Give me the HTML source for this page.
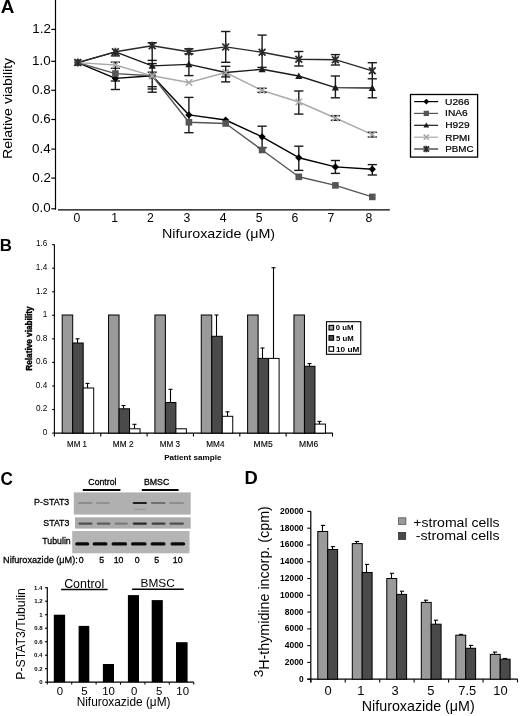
<!DOCTYPE html>
<html><head><meta charset="utf-8"><style>
html,body{margin:0;padding:0;background:#fff;}
body{width:520px;height:716px;overflow:hidden;}
svg{display:block;font-family:"Liberation Sans", sans-serif;filter:grayscale(1);}
</style></head><body>
<svg width="520" height="716" viewBox="0 0 520 716">
<rect width="520" height="716" fill="#fff"/>
<text x="0.84" y="13.48" font-size="18.09" font-weight="bold" fill="#000" textLength="13.57" lengthAdjust="spacingAndGlyphs" >A</text>
<line x1="55.5" y1="0" x2="55.5" y2="209.8" stroke="#000" stroke-width="1.2" />
<line x1="51.3" y1="29.4" x2="55.5" y2="29.4" stroke="#000" stroke-width="1.2" />
<text x="32.24" y="32.9" font-size="13.4" font-weight="normal" fill="#000" textLength="18.63" lengthAdjust="spacingAndGlyphs" >1.2</text>
<line x1="51.3" y1="61.3" x2="55.5" y2="61.3" stroke="#000" stroke-width="1.2" />
<text x="32.11" y="64.8" font-size="13.4" font-weight="normal" fill="#000" textLength="18.63" lengthAdjust="spacingAndGlyphs" >1.0</text>
<line x1="51.3" y1="90.3" x2="55.5" y2="90.3" stroke="#000" stroke-width="1.2" />
<text x="32.11" y="93.8" font-size="13.4" font-weight="normal" fill="#000" textLength="18.63" lengthAdjust="spacingAndGlyphs" >0.8</text>
<line x1="51.3" y1="119.5" x2="55.5" y2="119.5" stroke="#000" stroke-width="1.2" />
<text x="32.11" y="123" font-size="13.4" font-weight="normal" fill="#000" textLength="18.63" lengthAdjust="spacingAndGlyphs" >0.6</text>
<line x1="51.3" y1="149.1" x2="55.5" y2="149.1" stroke="#000" stroke-width="1.2" />
<text x="31.98" y="152.6" font-size="13.4" font-weight="normal" fill="#000" textLength="18.63" lengthAdjust="spacingAndGlyphs" >0.4</text>
<line x1="51.3" y1="178.1" x2="55.5" y2="178.1" stroke="#000" stroke-width="1.2" />
<text x="32.24" y="181.6" font-size="13.4" font-weight="normal" fill="#000" textLength="18.63" lengthAdjust="spacingAndGlyphs" >0.2</text>
<line x1="51.3" y1="208.8" x2="55.5" y2="208.8" stroke="#000" stroke-width="1.2" />
<text x="32.11" y="212.3" font-size="13.4" font-weight="normal" fill="#000" textLength="18.63" lengthAdjust="spacingAndGlyphs" >0.0</text>
<line x1="58" y1="209.9" x2="389.8" y2="209.9" stroke="#000" stroke-width="1.2" />
<text x="73.43" y="221.7" font-size="12.2" font-weight="normal" fill="#000" textLength="6.79" lengthAdjust="spacingAndGlyphs" >0</text>
<text x="111.3" y="221.7" font-size="12.2" font-weight="normal" fill="#000" textLength="6.79" lengthAdjust="spacingAndGlyphs" >1</text>
<text x="147.08" y="221.7" font-size="12.2" font-weight="normal" fill="#000" textLength="6.79" lengthAdjust="spacingAndGlyphs" >2</text>
<text x="183.45" y="221.7" font-size="12.2" font-weight="normal" fill="#000" textLength="6.79" lengthAdjust="spacingAndGlyphs" >3</text>
<text x="219.84" y="221.7" font-size="12.2" font-weight="normal" fill="#000" textLength="6.79" lengthAdjust="spacingAndGlyphs" >4</text>
<text x="255.65" y="221.7" font-size="12.2" font-weight="normal" fill="#000" textLength="6.79" lengthAdjust="spacingAndGlyphs" >5</text>
<text x="291.58" y="221.7" font-size="12.2" font-weight="normal" fill="#000" textLength="6.79" lengthAdjust="spacingAndGlyphs" >6</text>
<text x="327.58" y="221.7" font-size="12.2" font-weight="normal" fill="#000" textLength="6.79" lengthAdjust="spacingAndGlyphs" >7</text>
<text x="365.44" y="221.7" font-size="12.2" font-weight="normal" fill="#000" textLength="6.79" lengthAdjust="spacingAndGlyphs" >8</text>
<text x="162.06" y="238.47" font-size="12.98" font-weight="normal" fill="#000" textLength="113.02" lengthAdjust="spacingAndGlyphs" >Nifuroxazide (&#956;M)</text>
<text transform="translate(12.04,159.03) rotate(-90)" font-size="13.62" font-weight="normal" fill="#000" textLength="101.22" lengthAdjust="spacingAndGlyphs" >Relative viability</text>
<polyline points="77.8,62.6 115.4,78.4 152.2,75.8 188.9,114.9 225.7,120 262.1,136.8 298.8,157.7 335.4,166.9 372.3,169.2" fill="none" stroke="#000" stroke-width="1.4" stroke-linejoin="round"/>
<polyline points="77.8,62.6 115.4,73.6 152.2,75.8 188.9,122.3 225.7,123.5 262.1,150 298.8,176.8 335.4,185.4 372.3,196.9" fill="none" stroke="#555" stroke-width="1.4" stroke-linejoin="round"/>
<polyline points="77.8,62.6 115.4,51.8 152.2,65.9 188.9,64.4 225.7,72.5 262.1,69.3 298.8,76 335.4,87.6 372.3,88" fill="none" stroke="#1a1a1a" stroke-width="1.4" stroke-linejoin="round"/>
<polyline points="77.8,62.6 115.4,65 152.2,75.8 188.9,82.5 225.7,72.5 262.1,90.5 298.8,102 335.4,118 372.3,134.6" fill="none" stroke="#aaa" stroke-width="1.4" stroke-linejoin="round"/>
<polyline points="77.8,62.6 115.4,51.8 152.2,45.7 188.9,51.8 225.7,46.9 262.1,52.3 298.8,59.2 335.4,59.7 372.3,70.8" fill="none" stroke="#2a2a2a" stroke-width="1.4" stroke-linejoin="round"/>
<line x1="115.4" y1="62.2" x2="115.4" y2="89.5" stroke="#1a1a1a" stroke-width="1.4" />
<line x1="110.8" y1="62.2" x2="120" y2="62.2" stroke="#1a1a1a" stroke-width="1.4" />
<line x1="110.8" y1="68.3" x2="120" y2="68.3" stroke="#1a1a1a" stroke-width="1.4" />
<line x1="110.8" y1="81.0" x2="120" y2="81.0" stroke="#1a1a1a" stroke-width="1.4" />
<line x1="110.8" y1="89.5" x2="120" y2="89.5" stroke="#1a1a1a" stroke-width="1.4" />
<line x1="115.4" y1="51.8" x2="115.4" y2="55.9" stroke="#1a1a1a" stroke-width="1.4" />
<line x1="110.8" y1="55.9" x2="120" y2="55.9" stroke="#1a1a1a" stroke-width="1.4" />
<line x1="152.2" y1="42.7" x2="152.2" y2="92.2" stroke="#1a1a1a" stroke-width="1.4" />
<line x1="147.6" y1="42.7" x2="156.8" y2="42.7" stroke="#1a1a1a" stroke-width="1.4" />
<line x1="147.6" y1="60.4" x2="156.8" y2="60.4" stroke="#1a1a1a" stroke-width="1.4" />
<line x1="147.6" y1="63.6" x2="156.8" y2="63.6" stroke="#1a1a1a" stroke-width="1.4" />
<line x1="147.6" y1="72.2" x2="156.8" y2="72.2" stroke="#1a1a1a" stroke-width="1.4" />
<line x1="147.6" y1="86.7" x2="156.8" y2="86.7" stroke="#1a1a1a" stroke-width="1.4" />
<line x1="147.6" y1="89.0" x2="156.8" y2="89.0" stroke="#1a1a1a" stroke-width="1.4" />
<line x1="147.6" y1="92.2" x2="156.8" y2="92.2" stroke="#1a1a1a" stroke-width="1.4" />
<line x1="188.9" y1="48.8" x2="188.9" y2="75.6" stroke="#1a1a1a" stroke-width="1.4" />
<line x1="184.3" y1="48.8" x2="193.5" y2="48.8" stroke="#1a1a1a" stroke-width="1.4" />
<line x1="184.3" y1="53.8" x2="193.5" y2="53.8" stroke="#1a1a1a" stroke-width="1.4" />
<line x1="184.3" y1="75.6" x2="193.5" y2="75.6" stroke="#1a1a1a" stroke-width="1.4" />
<line x1="188.9" y1="97.4" x2="188.9" y2="132.7" stroke="#1a1a1a" stroke-width="1.4" />
<line x1="184.3" y1="97.4" x2="193.5" y2="97.4" stroke="#1a1a1a" stroke-width="1.4" />
<line x1="184.3" y1="132.7" x2="193.5" y2="132.7" stroke="#1a1a1a" stroke-width="1.4" />
<line x1="225.7" y1="31.5" x2="225.7" y2="62.3" stroke="#1a1a1a" stroke-width="1.4" />
<line x1="221.1" y1="31.5" x2="230.3" y2="31.5" stroke="#1a1a1a" stroke-width="1.4" />
<line x1="221.1" y1="62.3" x2="230.3" y2="62.3" stroke="#1a1a1a" stroke-width="1.4" />
<line x1="225.7" y1="66.3" x2="225.7" y2="81.9" stroke="#1a1a1a" stroke-width="1.4" />
<line x1="221.1" y1="66.3" x2="230.3" y2="66.3" stroke="#1a1a1a" stroke-width="1.4" />
<line x1="221.1" y1="76.9" x2="230.3" y2="76.9" stroke="#1a1a1a" stroke-width="1.4" />
<line x1="221.1" y1="81.9" x2="230.3" y2="81.9" stroke="#1a1a1a" stroke-width="1.4" />
<line x1="262.1" y1="35.1" x2="262.1" y2="67.4" stroke="#1a1a1a" stroke-width="1.4" />
<line x1="257.5" y1="35.1" x2="266.7" y2="35.1" stroke="#1a1a1a" stroke-width="1.4" />
<line x1="257.5" y1="67.4" x2="266.7" y2="67.4" stroke="#1a1a1a" stroke-width="1.4" />
<line x1="262.1" y1="88.3" x2="262.1" y2="92.3" stroke="#1a1a1a" stroke-width="1.4" />
<line x1="257.5" y1="88.3" x2="266.7" y2="88.3" stroke="#1a1a1a" stroke-width="1.4" />
<line x1="257.5" y1="92.3" x2="266.7" y2="92.3" stroke="#1a1a1a" stroke-width="1.4" />
<line x1="262.1" y1="126.2" x2="262.1" y2="147.7" stroke="#1a1a1a" stroke-width="1.4" />
<line x1="257.5" y1="126.2" x2="266.7" y2="126.2" stroke="#1a1a1a" stroke-width="1.4" />
<line x1="257.5" y1="147.7" x2="266.7" y2="147.7" stroke="#1a1a1a" stroke-width="1.4" />
<line x1="298.8" y1="51.5" x2="298.8" y2="66.0" stroke="#1a1a1a" stroke-width="1.4" />
<line x1="294.2" y1="51.5" x2="303.4" y2="51.5" stroke="#1a1a1a" stroke-width="1.4" />
<line x1="294.2" y1="66.0" x2="303.4" y2="66.0" stroke="#1a1a1a" stroke-width="1.4" />
<line x1="298.8" y1="91.0" x2="298.8" y2="114.1" stroke="#1a1a1a" stroke-width="1.4" />
<line x1="294.2" y1="91.0" x2="303.4" y2="91.0" stroke="#1a1a1a" stroke-width="1.4" />
<line x1="294.2" y1="114.1" x2="303.4" y2="114.1" stroke="#1a1a1a" stroke-width="1.4" />
<line x1="298.8" y1="146.2" x2="298.8" y2="170.4" stroke="#1a1a1a" stroke-width="1.4" />
<line x1="294.2" y1="146.2" x2="303.4" y2="146.2" stroke="#1a1a1a" stroke-width="1.4" />
<line x1="294.2" y1="170.4" x2="303.4" y2="170.4" stroke="#1a1a1a" stroke-width="1.4" />
<line x1="335.4" y1="54.6" x2="335.4" y2="65.0" stroke="#1a1a1a" stroke-width="1.4" />
<line x1="330.8" y1="54.6" x2="340" y2="54.6" stroke="#1a1a1a" stroke-width="1.4" />
<line x1="330.8" y1="65.0" x2="340" y2="65.0" stroke="#1a1a1a" stroke-width="1.4" />
<line x1="335.4" y1="76.0" x2="335.4" y2="97.8" stroke="#1a1a1a" stroke-width="1.4" />
<line x1="330.8" y1="76.0" x2="340" y2="76.0" stroke="#1a1a1a" stroke-width="1.4" />
<line x1="330.8" y1="97.8" x2="340" y2="97.8" stroke="#1a1a1a" stroke-width="1.4" />
<line x1="335.4" y1="115.7" x2="335.4" y2="120.3" stroke="#1a1a1a" stroke-width="1.4" />
<line x1="330.8" y1="115.7" x2="340" y2="115.7" stroke="#1a1a1a" stroke-width="1.4" />
<line x1="330.8" y1="120.3" x2="340" y2="120.3" stroke="#1a1a1a" stroke-width="1.4" />
<line x1="335.4" y1="160.5" x2="335.4" y2="173.4" stroke="#1a1a1a" stroke-width="1.4" />
<line x1="330.8" y1="160.5" x2="340" y2="160.5" stroke="#1a1a1a" stroke-width="1.4" />
<line x1="330.8" y1="173.4" x2="340" y2="173.4" stroke="#1a1a1a" stroke-width="1.4" />
<line x1="372.3" y1="62.7" x2="372.3" y2="78.8" stroke="#1a1a1a" stroke-width="1.4" />
<line x1="367.7" y1="62.7" x2="376.9" y2="62.7" stroke="#1a1a1a" stroke-width="1.4" />
<line x1="367.7" y1="78.8" x2="376.9" y2="78.8" stroke="#1a1a1a" stroke-width="1.4" />
<line x1="372.3" y1="78.8" x2="372.3" y2="97.8" stroke="#1a1a1a" stroke-width="1.4" />
<line x1="367.7" y1="97.8" x2="376.9" y2="97.8" stroke="#1a1a1a" stroke-width="1.4" />
<line x1="372.3" y1="132.3" x2="372.3" y2="137.0" stroke="#1a1a1a" stroke-width="1.4" />
<line x1="367.7" y1="132.3" x2="376.9" y2="132.3" stroke="#1a1a1a" stroke-width="1.4" />
<line x1="367.7" y1="137.0" x2="376.9" y2="137.0" stroke="#1a1a1a" stroke-width="1.4" />
<line x1="372.3" y1="164.6" x2="372.3" y2="175.0" stroke="#1a1a1a" stroke-width="1.4" />
<line x1="367.7" y1="164.6" x2="376.9" y2="164.6" stroke="#1a1a1a" stroke-width="1.4" />
<line x1="367.7" y1="175.0" x2="376.9" y2="175.0" stroke="#1a1a1a" stroke-width="1.4" />
<path d="M77.8 59L81.4 62.6L77.8 66.2L74.2 62.6Z" fill="#000"/>
<path d="M115.4 74.8L119 78.4L115.4 82L111.8 78.4Z" fill="#000"/>
<path d="M152.2 72.2L155.8 75.8L152.2 79.4L148.6 75.8Z" fill="#000"/>
<path d="M188.9 111.3L192.5 114.9L188.9 118.5L185.3 114.9Z" fill="#000"/>
<path d="M225.7 116.4L229.3 120L225.7 123.6L222.1 120Z" fill="#000"/>
<path d="M262.1 133.2L265.7 136.8L262.1 140.4L258.5 136.8Z" fill="#000"/>
<path d="M298.8 154.1L302.4 157.7L298.8 161.3L295.2 157.7Z" fill="#000"/>
<path d="M335.4 163.3L339 166.9L335.4 170.5L331.8 166.9Z" fill="#000"/>
<path d="M372.3 165.6L375.9 169.2L372.3 172.8L368.7 169.2Z" fill="#000"/>
<rect x="74.5" y="59.3" width="6.6" height="6.6" fill="#555"/>
<rect x="112.1" y="70.3" width="6.6" height="6.6" fill="#555"/>
<rect x="148.9" y="72.5" width="6.6" height="6.6" fill="#555"/>
<rect x="185.6" y="119" width="6.6" height="6.6" fill="#555"/>
<rect x="222.4" y="120.2" width="6.6" height="6.6" fill="#555"/>
<rect x="258.8" y="146.7" width="6.6" height="6.6" fill="#555"/>
<rect x="295.5" y="173.5" width="6.6" height="6.6" fill="#555"/>
<rect x="332.1" y="182.1" width="6.6" height="6.6" fill="#555"/>
<rect x="369" y="193.6" width="6.6" height="6.6" fill="#555"/>
<path d="M77.8 59L81.4 65.48L74.2 65.48Z" fill="#1a1a1a"/>
<path d="M115.4 48.2L119 54.68L111.8 54.68Z" fill="#1a1a1a"/>
<path d="M152.2 62.3L155.8 68.78L148.6 68.78Z" fill="#1a1a1a"/>
<path d="M188.9 60.8L192.5 67.28L185.3 67.28Z" fill="#1a1a1a"/>
<path d="M225.7 68.9L229.3 75.38L222.1 75.38Z" fill="#1a1a1a"/>
<path d="M262.1 65.7L265.7 72.18L258.5 72.18Z" fill="#1a1a1a"/>
<path d="M298.8 72.4L302.4 78.88L295.2 78.88Z" fill="#1a1a1a"/>
<path d="M335.4 84L339 90.48L331.8 90.48Z" fill="#1a1a1a"/>
<path d="M372.3 84.4L375.9 90.88L368.7 90.88Z" fill="#1a1a1a"/>
<path d="M74.6 59.4L81 65.8M81 59.4L74.6 65.8" stroke="#aaa" stroke-width="1.6" fill="none"/>
<path d="M112.2 61.8L118.6 68.2M118.6 61.8L112.2 68.2" stroke="#aaa" stroke-width="1.6" fill="none"/>
<path d="M149 72.6L155.4 79M155.4 72.6L149 79" stroke="#aaa" stroke-width="1.6" fill="none"/>
<path d="M185.7 79.3L192.1 85.7M192.1 79.3L185.7 85.7" stroke="#aaa" stroke-width="1.6" fill="none"/>
<path d="M222.5 69.3L228.9 75.7M228.9 69.3L222.5 75.7" stroke="#aaa" stroke-width="1.6" fill="none"/>
<path d="M258.9 87.3L265.3 93.7M265.3 87.3L258.9 93.7" stroke="#aaa" stroke-width="1.6" fill="none"/>
<path d="M295.6 98.8L302 105.2M302 98.8L295.6 105.2" stroke="#aaa" stroke-width="1.6" fill="none"/>
<path d="M332.2 114.8L338.6 121.2M338.6 114.8L332.2 121.2" stroke="#aaa" stroke-width="1.6" fill="none"/>
<path d="M369.1 131.4L375.5 137.8M375.5 131.4L369.1 137.8" stroke="#aaa" stroke-width="1.6" fill="none"/>
<path d="M74.4 59.2L81.2 66M81.2 59.2L74.4 66M77.8 58.6L77.8 66.6" stroke="#2a2a2a" stroke-width="1.7" fill="none"/>
<path d="M112 48.4L118.8 55.2M118.8 48.4L112 55.2M115.4 47.8L115.4 55.8" stroke="#2a2a2a" stroke-width="1.7" fill="none"/>
<path d="M148.8 42.3L155.6 49.1M155.6 42.3L148.8 49.1M152.2 41.7L152.2 49.7" stroke="#2a2a2a" stroke-width="1.7" fill="none"/>
<path d="M185.5 48.4L192.3 55.2M192.3 48.4L185.5 55.2M188.9 47.8L188.9 55.8" stroke="#2a2a2a" stroke-width="1.7" fill="none"/>
<path d="M222.3 43.5L229.1 50.3M229.1 43.5L222.3 50.3M225.7 42.9L225.7 50.9" stroke="#2a2a2a" stroke-width="1.7" fill="none"/>
<path d="M258.7 48.9L265.5 55.7M265.5 48.9L258.7 55.7M262.1 48.3L262.1 56.3" stroke="#2a2a2a" stroke-width="1.7" fill="none"/>
<path d="M295.4 55.8L302.2 62.6M302.2 55.8L295.4 62.6M298.8 55.2L298.8 63.2" stroke="#2a2a2a" stroke-width="1.7" fill="none"/>
<path d="M332 56.3L338.8 63.1M338.8 56.3L332 63.1M335.4 55.7L335.4 63.7" stroke="#2a2a2a" stroke-width="1.7" fill="none"/>
<path d="M368.9 67.4L375.7 74.2M375.7 67.4L368.9 74.2M372.3 66.8L372.3 74.8" stroke="#2a2a2a" stroke-width="1.7" fill="none"/>
<rect x="410.5" y="94.5" width="67.1" height="62.6" fill="#fff" stroke="#000" stroke-width="1.3" />
<line x1="414.1" y1="101.6" x2="438.1" y2="101.6" stroke="#000" stroke-width="1.2" />
<path d="M426.3 98.72L429.18 101.6L426.3 104.48L423.42 101.6Z" fill="#000"/>
<text x="444.98" y="104.91" font-size="9.15" font-weight="normal" fill="#000" textLength="24.54" lengthAdjust="spacingAndGlyphs" stroke="#000" stroke-width="0.2">U266</text>
<line x1="414.1" y1="113.4" x2="438.1" y2="113.4" stroke="#555" stroke-width="1.2" />
<rect x="423.66" y="110.76" width="5.28" height="5.28" fill="#555"/>
<text x="445.08" y="116.41" font-size="9.15" font-weight="normal" fill="#000" textLength="22.66" lengthAdjust="spacingAndGlyphs" stroke="#000" stroke-width="0.2">INA6</text>
<line x1="414.1" y1="125.3" x2="438.1" y2="125.3" stroke="#1a1a1a" stroke-width="1.2" />
<path d="M426.3 122.42L429.18 127.6L423.42 127.6Z" fill="#1a1a1a"/>
<text x="445.18" y="128.01" font-size="9.3" font-weight="normal" fill="#000" textLength="24.44" lengthAdjust="spacingAndGlyphs" stroke="#000" stroke-width="0.2">H929</text>
<line x1="414.1" y1="137.2" x2="438.1" y2="137.2" stroke="#aaa" stroke-width="1.2" />
<path d="M423.74 134.64L428.86 139.76M428.86 134.64L423.74 139.76" stroke="#aaa" stroke-width="1.6" fill="none"/>
<text x="445.2" y="140.5" font-size="9.13" font-weight="normal" fill="#000" textLength="24.89" lengthAdjust="spacingAndGlyphs" stroke="#000" stroke-width="0.2">RPMI</text>
<line x1="414.1" y1="149.0" x2="438.1" y2="149.0" stroke="#2a2a2a" stroke-width="1.2" />
<path d="M423.58 146.28L429.02 151.72M429.02 146.28L423.58 151.72M426.3 145.68L426.3 152.32" stroke="#2a2a2a" stroke-width="1.7" fill="none"/>
<text x="445.21" y="152.11" font-size="9.15" font-weight="normal" fill="#000" textLength="28.37" lengthAdjust="spacingAndGlyphs" stroke="#000" stroke-width="0.2">PBMC</text>
<text x="-0.18" y="251.2" font-size="17.1" font-weight="bold" fill="#000" textLength="12.19" lengthAdjust="spacingAndGlyphs" >B</text>
<line x1="54.4" y1="244.6" x2="54.4" y2="433.6" stroke="#000" stroke-width="1.1" />
<line x1="52.2" y1="433.1" x2="54.4" y2="433.1" stroke="#000" stroke-width="1.1" />
<text x="42.74" y="434.9" font-size="8.2" font-weight="normal" fill="#000" textLength="4.56" lengthAdjust="spacingAndGlyphs" >0</text>
<line x1="52.2" y1="409.54" x2="54.4" y2="409.54" stroke="#000" stroke-width="1.1" />
<text x="36.01" y="411.34" font-size="8.2" font-weight="normal" fill="#000" textLength="11.4" lengthAdjust="spacingAndGlyphs" >0.2</text>
<line x1="52.2" y1="385.98" x2="54.4" y2="385.98" stroke="#000" stroke-width="1.1" />
<text x="35.85" y="387.78" font-size="8.2" font-weight="normal" fill="#000" textLength="11.4" lengthAdjust="spacingAndGlyphs" >0.4</text>
<line x1="52.2" y1="362.42" x2="54.4" y2="362.42" stroke="#000" stroke-width="1.1" />
<text x="35.93" y="364.22" font-size="8.2" font-weight="normal" fill="#000" textLength="11.4" lengthAdjust="spacingAndGlyphs" >0.6</text>
<line x1="52.2" y1="338.86" x2="54.4" y2="338.86" stroke="#000" stroke-width="1.1" />
<text x="35.93" y="340.66" font-size="8.2" font-weight="normal" fill="#000" textLength="11.4" lengthAdjust="spacingAndGlyphs" >0.8</text>
<line x1="52.2" y1="315.3" x2="54.4" y2="315.3" stroke="#000" stroke-width="1.1" />
<text x="42.82" y="317.1" font-size="8.2" font-weight="normal" fill="#000" textLength="4.56" lengthAdjust="spacingAndGlyphs" >1</text>
<line x1="52.2" y1="291.74" x2="54.4" y2="291.74" stroke="#000" stroke-width="1.1" />
<text x="36.01" y="293.54" font-size="8.2" font-weight="normal" fill="#000" textLength="11.4" lengthAdjust="spacingAndGlyphs" >1.2</text>
<line x1="52.2" y1="268.18000000000006" x2="54.4" y2="268.18000000000006" stroke="#000" stroke-width="1.1" />
<text x="35.85" y="269.98" font-size="8.2" font-weight="normal" fill="#000" textLength="11.4" lengthAdjust="spacingAndGlyphs" >1.4</text>
<line x1="52.2" y1="244.62000000000003" x2="54.4" y2="244.62000000000003" stroke="#000" stroke-width="1.1" />
<text x="35.93" y="246.42" font-size="8.2" font-weight="normal" fill="#000" textLength="11.4" lengthAdjust="spacingAndGlyphs" >1.6</text>
<line x1="54" y1="433.1" x2="332.8" y2="433.1" stroke="#000" stroke-width="1.1" />
<line x1="54.4" y1="433.1" x2="54.4" y2="436.6" stroke="#000" stroke-width="1.1" />
<line x1="100.75" y1="433.1" x2="100.75" y2="436.6" stroke="#000" stroke-width="1.1" />
<line x1="147.1" y1="433.1" x2="147.1" y2="436.6" stroke="#000" stroke-width="1.1" />
<line x1="193.45000000000002" y1="433.1" x2="193.45000000000002" y2="436.6" stroke="#000" stroke-width="1.1" />
<line x1="239.8" y1="433.1" x2="239.8" y2="436.6" stroke="#000" stroke-width="1.1" />
<line x1="286.15" y1="433.1" x2="286.15" y2="436.6" stroke="#000" stroke-width="1.1" />
<line x1="332.5" y1="433.1" x2="332.5" y2="436.6" stroke="#000" stroke-width="1.1" />
<text transform="translate(31.76,370.67) rotate(-90)" font-size="9.26" font-weight="bold" fill="#000" textLength="64.33" lengthAdjust="spacingAndGlyphs" stroke="#000" stroke-width="0.4">Relative viability</text>
<line x1="77.5" y1="338.8" x2="77.5" y2="343" stroke="#000" stroke-width="1.1" />
<line x1="75.5" y1="338.8" x2="79.5" y2="338.8" stroke="#000" stroke-width="1.1" />
<line x1="87.5" y1="383.4" x2="87.5" y2="388" stroke="#000" stroke-width="1.1" />
<line x1="85.5" y1="383.4" x2="89.5" y2="383.4" stroke="#000" stroke-width="1.1" />
<rect x="62.2" y="315" width="10.5" height="118.10000000000002" fill="#9a9a9a" stroke="#000" stroke-width="1.0" />
<rect x="72.7" y="343" width="10.5" height="90.10000000000002" fill="#4a4a4a" stroke="#000" stroke-width="1.0" />
<rect x="83.2" y="388" width="10.5" height="45.10000000000002" fill="#fff" stroke="#000" stroke-width="1.0" />
<text x="67.07" y="447.2" font-size="8.41" font-weight="normal" fill="#000" textLength="19.83" lengthAdjust="spacingAndGlyphs" stroke="#000" stroke-width="0.12">MM 1</text>
<line x1="123.5" y1="405.5" x2="123.5" y2="408.8" stroke="#000" stroke-width="1.1" />
<line x1="121.5" y1="405.5" x2="125.5" y2="405.5" stroke="#000" stroke-width="1.1" />
<line x1="134.5" y1="424.3" x2="134.5" y2="428.8" stroke="#000" stroke-width="1.1" />
<line x1="132.5" y1="424.3" x2="136.5" y2="424.3" stroke="#000" stroke-width="1.1" />
<rect x="108.55000000000001" y="315" width="10.5" height="118.10000000000002" fill="#9a9a9a" stroke="#000" stroke-width="1.0" />
<rect x="119.05000000000001" y="408.8" width="10.5" height="24.30000000000001" fill="#4a4a4a" stroke="#000" stroke-width="1.0" />
<rect x="129.55" y="428.8" width="10.5" height="4.300000000000011" fill="#fff" stroke="#000" stroke-width="1.0" />
<text x="112.84" y="447.2" font-size="8.29" font-weight="normal" fill="#000" textLength="20.68" lengthAdjust="spacingAndGlyphs" stroke="#000" stroke-width="0.12">MM 2</text>
<line x1="170.5" y1="389.3" x2="170.5" y2="402.5" stroke="#000" stroke-width="1.1" />
<line x1="168.5" y1="389.3" x2="172.5" y2="389.3" stroke="#000" stroke-width="1.1" />
<rect x="154.9" y="315" width="10.5" height="118.10000000000002" fill="#9a9a9a" stroke="#000" stroke-width="1.0" />
<rect x="165.4" y="402.5" width="10.5" height="30.600000000000023" fill="#4a4a4a" stroke="#000" stroke-width="1.0" />
<rect x="175.9" y="428.8" width="10.5" height="4.300000000000011" fill="#fff" stroke="#000" stroke-width="1.0" />
<text x="159.65" y="447.12" font-size="8.17" font-weight="normal" fill="#000" textLength="20.38" lengthAdjust="spacingAndGlyphs" stroke="#000" stroke-width="0.12">MM 3</text>
<line x1="216.5" y1="315" x2="216.5" y2="336.3" stroke="#000" stroke-width="1.1" />
<line x1="214.5" y1="315" x2="218.5" y2="315" stroke="#000" stroke-width="1.1" />
<line x1="227.5" y1="411.8" x2="227.5" y2="416.3" stroke="#000" stroke-width="1.1" />
<line x1="225.5" y1="411.8" x2="229.5" y2="411.8" stroke="#000" stroke-width="1.1" />
<rect x="201.25" y="315" width="10.5" height="118.10000000000002" fill="#9a9a9a" stroke="#000" stroke-width="1.0" />
<rect x="211.75" y="336.3" width="10.5" height="96.80000000000001" fill="#4a4a4a" stroke="#000" stroke-width="1.0" />
<rect x="222.25" y="416.3" width="10.5" height="16.80000000000001" fill="#fff" stroke="#000" stroke-width="1.0" />
<text x="206.24" y="447.2" font-size="8.41" font-weight="normal" fill="#000" textLength="18.22" lengthAdjust="spacingAndGlyphs" stroke="#000" stroke-width="0.12">MM4</text>
<line x1="262.5" y1="348" x2="262.5" y2="358.4" stroke="#000" stroke-width="1.1" />
<line x1="260.5" y1="348" x2="264.5" y2="348" stroke="#000" stroke-width="1.1" />
<line x1="273.5" y1="267.7" x2="273.5" y2="358.4" stroke="#000" stroke-width="1.1" />
<line x1="271.5" y1="267.7" x2="275.5" y2="267.7" stroke="#000" stroke-width="1.1" />
<rect x="247.60000000000002" y="315" width="10.5" height="118.10000000000002" fill="#9a9a9a" stroke="#000" stroke-width="1.0" />
<rect x="258.1" y="358.4" width="10.5" height="74.70000000000005" fill="#4a4a4a" stroke="#000" stroke-width="1.0" />
<rect x="268.6" y="358.4" width="10.5" height="74.70000000000005" fill="#fff" stroke="#000" stroke-width="1.0" />
<text x="253.61" y="447.12" font-size="8.29" font-weight="normal" fill="#000" textLength="19.05" lengthAdjust="spacingAndGlyphs" stroke="#000" stroke-width="0.12">MM5</text>
<line x1="309.5" y1="363.6" x2="309.5" y2="366.3" stroke="#000" stroke-width="1.1" />
<line x1="307.5" y1="363.6" x2="311.5" y2="363.6" stroke="#000" stroke-width="1.1" />
<line x1="319.5" y1="421.4" x2="319.5" y2="424.1" stroke="#000" stroke-width="1.1" />
<line x1="317.5" y1="421.4" x2="321.5" y2="421.4" stroke="#000" stroke-width="1.1" />
<rect x="293.95" y="315" width="10.5" height="118.10000000000002" fill="#9a9a9a" stroke="#000" stroke-width="1.0" />
<rect x="304.45" y="366.3" width="10.5" height="66.80000000000001" fill="#4a4a4a" stroke="#000" stroke-width="1.0" />
<rect x="314.95" y="424.1" width="10.5" height="9.0" fill="#fff" stroke="#000" stroke-width="1.0" />
<text x="299.11" y="447.12" font-size="8.17" font-weight="normal" fill="#000" textLength="19.05" lengthAdjust="spacingAndGlyphs" stroke="#000" stroke-width="0.12">MM6</text>
<text x="164.18" y="459.72" font-size="7.29" font-weight="bold" fill="#000" textLength="57.38" lengthAdjust="spacingAndGlyphs" >Patient sample</text>
<rect x="326.5" y="321.7" width="34.3" height="32.6" fill="#fff" stroke="#000" stroke-width="1.1" />
<rect x="329.0" y="325.4" width="4.6" height="4.6" fill="#9a9a9a" stroke="#000" stroke-width="1.1" />
<text x="335.89" y="330.33" font-size="6.9" font-weight="bold" fill="#000" textLength="17.74" lengthAdjust="spacingAndGlyphs" >0 uM</text>
<rect x="329.0" y="335.59999999999997" width="4.6" height="4.6" fill="#4a4a4a" stroke="#000" stroke-width="1.1" />
<text x="335.97" y="340.73" font-size="7.14" font-weight="bold" fill="#000" textLength="17.66" lengthAdjust="spacingAndGlyphs" >5 uM</text>
<rect x="329.0" y="346.7" width="4.6" height="4.6" fill="#fff" stroke="#000" stroke-width="1.1" />
<text x="336.01" y="351.82" font-size="7.61" font-weight="bold" fill="#000" textLength="23.32" lengthAdjust="spacingAndGlyphs" >10 uM</text>
<text x="0.51" y="484.51" font-size="18.59" font-weight="bold" fill="#000" textLength="12.44" lengthAdjust="spacingAndGlyphs" >C</text>
<text x="88.36" y="485.11" font-size="9.46" font-weight="normal" fill="#000" textLength="28.09" lengthAdjust="spacingAndGlyphs" stroke="#000" stroke-width="0.3">Control</text>
<text x="143.9" y="485.31" font-size="9.44" font-weight="normal" fill="#000" textLength="25.35" lengthAdjust="spacingAndGlyphs" stroke="#000" stroke-width="0.3">BMSC</text>
<line x1="82.8" y1="490.0" x2="120.4" y2="490.0" stroke="#000" stroke-width="2.0" />
<line x1="141.8" y1="490.0" x2="178.6" y2="490.0" stroke="#000" stroke-width="2.0" />
<rect x="73.8" y="492.4" width="116.9" height="22.2" fill="#b0b0b0" stroke="none" stroke-width="1" />
<rect x="75.0" y="517.3" width="115.7" height="11.3" fill="#acacac" stroke="none" stroke-width="1" />
<rect x="72.2" y="531.0" width="117.3" height="22.3" fill="#b4b4b4" stroke="none" stroke-width="1" />
<text x="34.09" y="505.01" font-size="9.3" font-weight="normal" fill="#000" textLength="35.2" lengthAdjust="spacingAndGlyphs" stroke="#000" stroke-width="0.3">P-STAT3</text>
<text x="43.36" y="525.71" font-size="8.87" font-weight="normal" fill="#000" textLength="25.92" lengthAdjust="spacingAndGlyphs" stroke="#000" stroke-width="0.3">STAT3</text>
<text x="42.32" y="543.71" font-size="9.05" font-weight="normal" fill="#000" textLength="28.43" lengthAdjust="spacingAndGlyphs" stroke="#000" stroke-width="0.3">Tubulin</text>
<rect x="78" y="501.9" width="14.5" height="2.2" rx="1.1" fill="#8c8c8c" opacity="1.0"/>
<rect x="96" y="501.9" width="14" height="2.2" rx="1.1" fill="#909090" opacity="1.0"/>
<rect x="132.6" y="501.9" width="14.4" height="2.2" rx="1.1" fill="#1e1e1e" opacity="1.0"/>
<rect x="150.8" y="501.9" width="15" height="2.2" rx="1.1" fill="#707070" opacity="1.0"/>
<rect x="169" y="501.9" width="15" height="2.2" rx="1.1" fill="#8e8e8e" opacity="1.0"/>
<rect x="133.5" y="508.6" width="13" height="1.6" rx="0.8" fill="#9c9c9c" opacity="1.0"/>
<rect x="78.5" y="522.4" width="14" height="2.4" rx="1.2" fill="#505050" opacity="1.0"/>
<rect x="96.8" y="522.4" width="13.6" height="2.4" rx="1.2" fill="#5c5c5c" opacity="1.0"/>
<rect x="114.4" y="522.4" width="13.4" height="2.4" rx="1.2" fill="#7c7c7c" opacity="1.0"/>
<rect x="132.8" y="522.4" width="14.2" height="2.4" rx="1.2" fill="#2a2a2a" opacity="1.0"/>
<rect x="151.6" y="522.4" width="13.9" height="2.4" rx="1.2" fill="#404040" opacity="1.0"/>
<rect x="169.5" y="522.4" width="14.5" height="2.4" rx="1.2" fill="#505050" opacity="1.0"/>
<rect x="75.2" y="542.25" width="14" height="3.3" rx="1.65" fill="#0a0a0a" opacity="1.0"/>
<rect x="92.6" y="542.25" width="14.9" height="3.3" rx="1.65" fill="#0a0a0a" opacity="1.0"/>
<rect x="111.5" y="542.25" width="15.6" height="3.3" rx="1.65" fill="#0a0a0a" opacity="1.0"/>
<rect x="131" y="542.25" width="15.6" height="3.3" rx="1.65" fill="#0a0a0a" opacity="1.0"/>
<rect x="150.6" y="542.25" width="15" height="3.3" rx="1.65" fill="#0a0a0a" opacity="1.0"/>
<rect x="170.5" y="542.25" width="14.7" height="3.3" rx="1.65" fill="#0a0a0a" opacity="1.0"/>
<text x="3.07" y="562.94" font-size="9.79" font-weight="normal" fill="#000" textLength="74.74" lengthAdjust="spacingAndGlyphs" stroke="#000" stroke-width="0.3">Nifuroxazide (&#956;M):</text>
<text x="78.84" y="562.5" font-size="8.8" font-weight="normal" fill="#000" textLength="4.9" lengthAdjust="spacingAndGlyphs" stroke="#000" stroke-width="0.3">0</text>
<text x="99.18" y="562.5" font-size="8.8" font-weight="normal" fill="#000" textLength="4.9" lengthAdjust="spacingAndGlyphs" stroke="#000" stroke-width="0.3">5</text>
<text x="113.69" y="562.5" font-size="8.8" font-weight="normal" fill="#000" textLength="9.79" lengthAdjust="spacingAndGlyphs" stroke="#000" stroke-width="0.3">10</text>
<text x="134.64" y="562.5" font-size="8.8" font-weight="normal" fill="#000" textLength="4.9" lengthAdjust="spacingAndGlyphs" stroke="#000" stroke-width="0.3">0</text>
<text x="154.18" y="562.5" font-size="8.8" font-weight="normal" fill="#000" textLength="4.9" lengthAdjust="spacingAndGlyphs" stroke="#000" stroke-width="0.3">5</text>
<text x="172.84" y="562.5" font-size="8.8" font-weight="normal" fill="#000" textLength="9.79" lengthAdjust="spacingAndGlyphs" stroke="#000" stroke-width="0.3">10</text>
<text x="64.13" y="587.87" font-size="12.57" font-weight="normal" fill="#000" textLength="40.17" lengthAdjust="spacingAndGlyphs" >Control</text>
<text x="140.55" y="587.19" font-size="11.41" font-weight="normal" fill="#000" textLength="34.32" lengthAdjust="spacingAndGlyphs" >BMSC</text>
<line x1="61.1" y1="589.5" x2="107.6" y2="589.5" stroke="#000" stroke-width="1.4" />
<line x1="132.1" y1="589.3" x2="183.7" y2="589.3" stroke="#000" stroke-width="1.4" />
<line x1="47.3" y1="587.3" x2="47.3" y2="682.8" stroke="#000" stroke-width="1.2" />
<line x1="45.0" y1="682.2" x2="47.3" y2="682.2" stroke="#000" stroke-width="1.1" />
<text x="39.34" y="684.1" font-size="6" font-weight="bold" fill="#000" textLength="3.34" lengthAdjust="spacingAndGlyphs" >0</text>
<line x1="45.0" y1="668.7" x2="47.3" y2="668.7" stroke="#000" stroke-width="1.1" />
<text x="34.3" y="670.6" font-size="6" font-weight="bold" fill="#000" textLength="8.34" lengthAdjust="spacingAndGlyphs" >0.2</text>
<line x1="45.0" y1="655.2" x2="47.3" y2="655.2" stroke="#000" stroke-width="1.1" />
<text x="34.06" y="657.1" font-size="6" font-weight="bold" fill="#000" textLength="8.34" lengthAdjust="spacingAndGlyphs" >0.4</text>
<line x1="45.0" y1="641.7" x2="47.3" y2="641.7" stroke="#000" stroke-width="1.1" />
<text x="34.3" y="643.6" font-size="6" font-weight="bold" fill="#000" textLength="8.34" lengthAdjust="spacingAndGlyphs" >0.6</text>
<line x1="45.0" y1="628.2" x2="47.3" y2="628.2" stroke="#000" stroke-width="1.1" />
<text x="34.24" y="630.1" font-size="6" font-weight="bold" fill="#000" textLength="8.34" lengthAdjust="spacingAndGlyphs" >0.8</text>
<line x1="45.0" y1="614.7" x2="47.3" y2="614.7" stroke="#000" stroke-width="1.1" />
<text x="39.22" y="616.6" font-size="6" font-weight="bold" fill="#000" textLength="3.34" lengthAdjust="spacingAndGlyphs" >1</text>
<line x1="45.0" y1="601.2" x2="47.3" y2="601.2" stroke="#000" stroke-width="1.1" />
<text x="34.3" y="603.1" font-size="6" font-weight="bold" fill="#000" textLength="8.34" lengthAdjust="spacingAndGlyphs" >1.2</text>
<line x1="45.0" y1="587.7" x2="47.3" y2="587.7" stroke="#000" stroke-width="1.1" />
<text x="34.06" y="589.6" font-size="6" font-weight="bold" fill="#000" textLength="8.34" lengthAdjust="spacingAndGlyphs" >1.4</text>
<line x1="46.8" y1="682.2" x2="193.8" y2="682.2" stroke="#000" stroke-width="1.2" />
<line x1="47.3" y1="682.2" x2="47.3" y2="684.6" stroke="#000" stroke-width="1.1" />
<line x1="71.69999999999999" y1="682.2" x2="71.69999999999999" y2="684.6" stroke="#000" stroke-width="1.1" />
<line x1="96.1" y1="682.2" x2="96.1" y2="684.6" stroke="#000" stroke-width="1.1" />
<line x1="120.49999999999999" y1="682.2" x2="120.49999999999999" y2="684.6" stroke="#000" stroke-width="1.1" />
<line x1="144.89999999999998" y1="682.2" x2="144.89999999999998" y2="684.6" stroke="#000" stroke-width="1.1" />
<line x1="169.3" y1="682.2" x2="169.3" y2="684.6" stroke="#000" stroke-width="1.1" />
<line x1="193.7" y1="682.2" x2="193.7" y2="684.6" stroke="#000" stroke-width="1.1" />
<rect x="53.8" y="614.7" width="11.3" height="67.5" fill="#000" stroke="none" stroke-width="1" />
<rect x="78.6" y="625.9" width="10.7" height="56.3" fill="#000" stroke="none" stroke-width="1" />
<rect x="102.9" y="664.0" width="11.1" height="18.2" fill="#000" stroke="none" stroke-width="1" />
<rect x="127.9" y="595.1" width="11.1" height="87.1" fill="#000" stroke="none" stroke-width="1" />
<rect x="151.7" y="600.1" width="11.1" height="82.1" fill="#000" stroke="none" stroke-width="1" />
<rect x="176.0" y="642.2" width="11.6" height="40" fill="#000" stroke="none" stroke-width="1" />
<text x="56.71" y="694.5" font-size="11.4" font-weight="normal" fill="#000" textLength="6.34" lengthAdjust="spacingAndGlyphs" >0</text>
<text x="81.36" y="694.5" font-size="11.4" font-weight="normal" fill="#000" textLength="6.34" lengthAdjust="spacingAndGlyphs" >5</text>
<text x="102.19" y="694.5" font-size="11.4" font-weight="normal" fill="#000" textLength="12.68" lengthAdjust="spacingAndGlyphs" >10</text>
<text x="131.11" y="694.5" font-size="11.4" font-weight="normal" fill="#000" textLength="6.34" lengthAdjust="spacingAndGlyphs" >0</text>
<text x="155.92" y="694.5" font-size="11.4" font-weight="normal" fill="#000" textLength="6.34" lengthAdjust="spacingAndGlyphs" >5</text>
<text x="176.34" y="694.5" font-size="11.4" font-weight="normal" fill="#000" textLength="12.68" lengthAdjust="spacingAndGlyphs" >10</text>
<text x="76.65" y="705.73" font-size="12.23" font-weight="normal" fill="#000" textLength="93.88" lengthAdjust="spacingAndGlyphs" >Nifuroxazide (&#956;M)</text>
<text transform="translate(24.78,679.78) rotate(-90)" font-size="12.03" font-weight="normal" fill="#000" textLength="91.66" lengthAdjust="spacingAndGlyphs" >P-STAT3/Tubulin</text>
<text x="244.51" y="484.4" font-size="17.97" font-weight="bold" fill="#000" textLength="13.26" lengthAdjust="spacingAndGlyphs" >D</text>
<line x1="310.8" y1="511.2" x2="310.8" y2="682.4" stroke="#000" stroke-width="1.2" />
<line x1="307.3" y1="679.2" x2="310.8" y2="679.2" stroke="#000" stroke-width="1.1" />
<text x="298.89" y="681.7" font-size="9.6" font-weight="bold" fill="#000" textLength="4.7" lengthAdjust="spacingAndGlyphs" >0</text>
<line x1="307.3" y1="662.4200000000001" x2="310.8" y2="662.4200000000001" stroke="#000" stroke-width="1.1" />
<text x="284.78" y="664.92" font-size="9.6" font-weight="bold" fill="#000" textLength="18.79" lengthAdjust="spacingAndGlyphs" >2000</text>
<line x1="307.3" y1="645.6400000000001" x2="310.8" y2="645.6400000000001" stroke="#000" stroke-width="1.1" />
<text x="284.78" y="648.14" font-size="9.6" font-weight="bold" fill="#000" textLength="18.79" lengthAdjust="spacingAndGlyphs" >4000</text>
<line x1="307.3" y1="628.86" x2="310.8" y2="628.86" stroke="#000" stroke-width="1.1" />
<text x="284.78" y="631.36" font-size="9.6" font-weight="bold" fill="#000" textLength="18.79" lengthAdjust="spacingAndGlyphs" >6000</text>
<line x1="307.3" y1="612.08" x2="310.8" y2="612.08" stroke="#000" stroke-width="1.1" />
<text x="284.78" y="614.58" font-size="9.6" font-weight="bold" fill="#000" textLength="18.79" lengthAdjust="spacingAndGlyphs" >8000</text>
<line x1="307.3" y1="595.3000000000001" x2="310.8" y2="595.3000000000001" stroke="#000" stroke-width="1.1" />
<text x="280.05" y="597.8" font-size="9.6" font-weight="bold" fill="#000" textLength="23.49" lengthAdjust="spacingAndGlyphs" >10000</text>
<line x1="307.3" y1="578.52" x2="310.8" y2="578.52" stroke="#000" stroke-width="1.1" />
<text x="280.05" y="581.02" font-size="9.6" font-weight="bold" fill="#000" textLength="23.49" lengthAdjust="spacingAndGlyphs" >12000</text>
<line x1="307.3" y1="561.74" x2="310.8" y2="561.74" stroke="#000" stroke-width="1.1" />
<text x="280.05" y="564.24" font-size="9.6" font-weight="bold" fill="#000" textLength="23.49" lengthAdjust="spacingAndGlyphs" >14000</text>
<line x1="307.3" y1="544.96" x2="310.8" y2="544.96" stroke="#000" stroke-width="1.1" />
<text x="280.05" y="547.46" font-size="9.6" font-weight="bold" fill="#000" textLength="23.49" lengthAdjust="spacingAndGlyphs" >16000</text>
<line x1="307.3" y1="528.1800000000001" x2="310.8" y2="528.1800000000001" stroke="#000" stroke-width="1.1" />
<text x="280.05" y="530.68" font-size="9.6" font-weight="bold" fill="#000" textLength="23.49" lengthAdjust="spacingAndGlyphs" >18000</text>
<line x1="307.3" y1="511.40000000000003" x2="310.8" y2="511.40000000000003" stroke="#000" stroke-width="1.1" />
<text x="280.05" y="513.9" font-size="9.6" font-weight="bold" fill="#000" textLength="23.49" lengthAdjust="spacingAndGlyphs" >20000</text>
<line x1="307.3" y1="679.2" x2="517.8" y2="679.2" stroke="#000" stroke-width="1.2" />
<line x1="310.8" y1="679.2" x2="310.8" y2="682.4" stroke="#000" stroke-width="1.1" />
<line x1="345.25" y1="679.2" x2="345.25" y2="682.4" stroke="#000" stroke-width="1.1" />
<line x1="379.70000000000005" y1="679.2" x2="379.70000000000005" y2="682.4" stroke="#000" stroke-width="1.1" />
<line x1="414.15000000000003" y1="679.2" x2="414.15000000000003" y2="682.4" stroke="#000" stroke-width="1.1" />
<line x1="448.6" y1="679.2" x2="448.6" y2="682.4" stroke="#000" stroke-width="1.1" />
<line x1="483.05" y1="679.2" x2="483.05" y2="682.4" stroke="#000" stroke-width="1.1" />
<line x1="517.5" y1="679.2" x2="517.5" y2="682.4" stroke="#000" stroke-width="1.1" />
<line x1="322.5" y1="525.4" x2="322.5" y2="531.5" stroke="#000" stroke-width="1.1" />
<line x1="320.9" y1="525.4" x2="325.1" y2="525.4" stroke="#000" stroke-width="1.1" />
<line x1="332.5" y1="546.6" x2="332.5" y2="549.5" stroke="#000" stroke-width="1.1" />
<line x1="330.9" y1="546.6" x2="335.1" y2="546.6" stroke="#000" stroke-width="1.1" />
<rect x="317.8" y="531.5" width="9.9" height="147.70000000000005" fill="#9a9a9a" stroke="#000" stroke-width="1.0" />
<rect x="327.7" y="549.5" width="9.9" height="129.70000000000005" fill="#4a4a4a" stroke="#000" stroke-width="1.0" />
<line x1="356.5" y1="541.5" x2="356.5" y2="543.6" stroke="#000" stroke-width="1.1" />
<line x1="354.9" y1="541.5" x2="359.1" y2="541.5" stroke="#000" stroke-width="1.1" />
<line x1="366.5" y1="564.4" x2="366.5" y2="572.5" stroke="#000" stroke-width="1.1" />
<line x1="364.9" y1="564.4" x2="369.1" y2="564.4" stroke="#000" stroke-width="1.1" />
<rect x="352.3" y="543.6" width="9.9" height="135.60000000000002" fill="#9a9a9a" stroke="#000" stroke-width="1.0" />
<rect x="362.2" y="572.5" width="9.9" height="106.70000000000005" fill="#4a4a4a" stroke="#000" stroke-width="1.0" />
<line x1="391.5" y1="573.3" x2="391.5" y2="578.5" stroke="#000" stroke-width="1.1" />
<line x1="389.9" y1="573.3" x2="394.1" y2="573.3" stroke="#000" stroke-width="1.1" />
<line x1="401.5" y1="591.2" x2="401.5" y2="594.4" stroke="#000" stroke-width="1.1" />
<line x1="399.9" y1="591.2" x2="404.1" y2="591.2" stroke="#000" stroke-width="1.1" />
<rect x="386.8" y="578.5" width="9.9" height="100.70000000000005" fill="#9a9a9a" stroke="#000" stroke-width="1.0" />
<rect x="396.7" y="594.4" width="9.9" height="84.80000000000007" fill="#4a4a4a" stroke="#000" stroke-width="1.0" />
<line x1="425.5" y1="600.2" x2="425.5" y2="602.4" stroke="#000" stroke-width="1.1" />
<line x1="423.9" y1="600.2" x2="428.1" y2="600.2" stroke="#000" stroke-width="1.1" />
<line x1="435.5" y1="620.2" x2="435.5" y2="624.2" stroke="#000" stroke-width="1.1" />
<line x1="433.9" y1="620.2" x2="438.1" y2="620.2" stroke="#000" stroke-width="1.1" />
<rect x="421.3" y="602.4" width="9.9" height="76.80000000000007" fill="#9a9a9a" stroke="#000" stroke-width="1.0" />
<rect x="431.2" y="624.2" width="9.9" height="55.0" fill="#4a4a4a" stroke="#000" stroke-width="1.0" />
<line x1="460.5" y1="634.4" x2="460.5" y2="635.2" stroke="#000" stroke-width="1.1" />
<line x1="458.9" y1="634.4" x2="463.1" y2="634.4" stroke="#000" stroke-width="1.1" />
<line x1="470.5" y1="645.4" x2="470.5" y2="648.3" stroke="#000" stroke-width="1.1" />
<line x1="468.9" y1="645.4" x2="473.1" y2="645.4" stroke="#000" stroke-width="1.1" />
<rect x="455.8" y="635.2" width="9.9" height="44.0" fill="#9a9a9a" stroke="#000" stroke-width="1.0" />
<rect x="465.7" y="648.3" width="9.9" height="30.90000000000009" fill="#4a4a4a" stroke="#000" stroke-width="1.0" />
<line x1="494.5" y1="652.1" x2="494.5" y2="654.4" stroke="#000" stroke-width="1.1" />
<line x1="492.9" y1="652.1" x2="497.1" y2="652.1" stroke="#000" stroke-width="1.1" />
<line x1="504.5" y1="658.5" x2="504.5" y2="659.2" stroke="#000" stroke-width="1.1" />
<line x1="502.9" y1="658.5" x2="507.1" y2="658.5" stroke="#000" stroke-width="1.1" />
<rect x="490.3" y="654.4" width="9.9" height="24.800000000000068" fill="#9a9a9a" stroke="#000" stroke-width="1.0" />
<rect x="500.2" y="659.2" width="9.9" height="20.0" fill="#4a4a4a" stroke="#000" stroke-width="1.0" />
<text x="324.59" y="694.8" font-size="12.9" font-weight="normal" fill="#000" textLength="7.18" lengthAdjust="spacingAndGlyphs" >0</text>
<text x="357.39" y="694.8" font-size="12.9" font-weight="normal" fill="#000" textLength="7.18" lengthAdjust="spacingAndGlyphs" >1</text>
<text x="391.45" y="694.8" font-size="12.9" font-weight="normal" fill="#000" textLength="7.18" lengthAdjust="spacingAndGlyphs" >3</text>
<text x="427.35" y="694.8" font-size="12.9" font-weight="normal" fill="#000" textLength="7.18" lengthAdjust="spacingAndGlyphs" >5</text>
<text x="458.27" y="694.8" font-size="12.9" font-weight="normal" fill="#000" textLength="17.93" lengthAdjust="spacingAndGlyphs" >7.5</text>
<text x="493.28" y="694.8" font-size="12.9" font-weight="normal" fill="#000" textLength="14.35" lengthAdjust="spacingAndGlyphs" >10</text>
<text x="361.76" y="710.82" font-size="13.72" font-weight="normal" fill="#000" textLength="112.92" lengthAdjust="spacingAndGlyphs" >Nifuroxazide (&#956;M)</text>
<rect x="398.5" y="517.8" width="7.4" height="6.6" fill="#9a9a9a" stroke="#444" stroke-width="0.7" />
<rect x="398.5" y="532.5" width="7.2" height="6.9" fill="#4a4a4a" stroke="#222" stroke-width="0.7" />
<text x="413.3" y="527.48" font-size="12.43" font-weight="normal" fill="#000" textLength="86.27" lengthAdjust="spacingAndGlyphs" >+stromal cells</text>
<text x="415.73" y="539.58" font-size="12.43" font-weight="normal" fill="#000" textLength="83.83" lengthAdjust="spacingAndGlyphs" >-stromal cells</text>
<text transform="translate(268.78,669.84) rotate(-90)" font-size="14.36" font-weight="normal" fill="#000" textLength="163.66" lengthAdjust="spacingAndGlyphs" >H-thymidine incorp. (cpm)</text>
<text transform="translate(263.37,677.35) rotate(-90)" font-size="12.96" font-weight="normal" fill="#000" textLength="7.69" lengthAdjust="spacingAndGlyphs" >3</text>
</svg>
</body></html>
